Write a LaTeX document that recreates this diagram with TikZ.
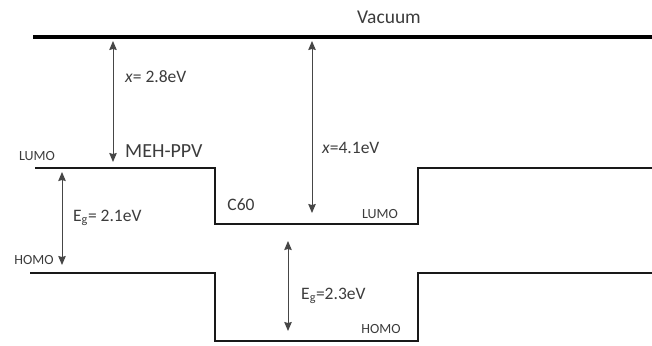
\documentclass[tikz,border=0pt]{standalone}
\usepackage{fontspec}
\setmainfont{Carlito}
\usetikzlibrary{arrows.meta}
\definecolor{txt}{RGB}{60,60,60}
\definecolor{arr}{RGB}{70,70,70}
\begin{document}
\begin{tikzpicture}[x=1pt,y=-1pt,
  lbl/.style={text=txt, inner sep=0pt},
  bigf/.style={font=\fontsize{19.5}{21}\selectfont},
  mehf/.style={font=\fontsize{20}{22}\selectfont},
  midf/.style={font=\fontsize{17.5}{19}\selectfont},
  smallf/.style={font=\fontsize{14}{15}\selectfont},
  level/.style={line width=2.8pt, draw=black!90, line join=miter},
  vac/.style={line width=3.6pt, draw=black},
  dim/.style={line width=1pt, draw=arr, {Stealth[length=9pt,width=7.5pt,inset=1pt]}-{Stealth[length=9pt,width=7.5pt,inset=1pt]}}]
\useasboundingbox (0,0) rectangle (652,345);
\fill[white] (0,0) rectangle (652,345);

% vacuum level
\coordinate (v0) at (33,37);
\coordinate (v1) at (652,37);
\draw[vac] (v0) -- (v1);
\node[lbl, bigf] (vaclabel) at (389,17) {Vacuum};

% LUMO level
\coordinate (l0) at (35,168);
\coordinate (l1) at (215,168);
\coordinate (l2) at (215,224);
\coordinate (l3) at (418,224);
\coordinate (l4) at (418,168);
\coordinate (l5) at (652,168);
\draw[level] (l0) -- (l1) -- (l2) -- (l3) -- (l4) -- (l5);

% HOMO level
\coordinate (h0) at (30,273);
\coordinate (h1) at (215,273);
\coordinate (h2) at (215,341);
\coordinate (h3) at (418,341);
\coordinate (h4) at (418,273);
\coordinate (h5) at (652,273);
\draw[level] (h0) -- (h1) -- (h2) -- (h3) -- (h4) -- (h5);

% arrows
\coordinate (a1t) at (113,41);
\coordinate (a1b) at (113,162);
\draw[dim] (a1t) -- (a1b);
\coordinate (a2t) at (312,41);
\coordinate (a2b) at (312,213);
\draw[dim] (a2t) -- (a2b);
\coordinate (g1t) at (62,172);
\coordinate (g1b) at (62,265);
\draw[dim] (g1t) -- (g1b);
\coordinate (g2t) at (288,241);
\coordinate (g2b) at (288,331);
\draw[dim] (g2t) -- (g2b);

% labels
\node[lbl, midf, anchor=west] (chi1) at (125,77) {\textit{x}= 2.8eV};
\node[lbl, midf, anchor=west] (chi2) at (322,148) {\textit{x}=4.1eV};
\node[lbl, mehf, anchor=west] (meh) at (125,151) {MEH-PPV};
\node[lbl, smallf] (lumoL) at (37,156) {LUMO};
\node[lbl, midf] (c60) at (241,205) {C60};
\node[lbl, smallf] (lumoR) at (380,214) {LUMO};
\node[lbl, midf, anchor=west] (eg1) at (73,218) {E\textsubscript{g}= 2.1eV};
\node[lbl, smallf] (homoL) at (34,260) {HOMO};
\node[lbl, midf, anchor=west] (eg2) at (301,296) {E\textsubscript{g}=2.3eV};
\node[lbl, smallf] (homoR) at (381,329) {HOMO};
\end{tikzpicture}
\end{document}
